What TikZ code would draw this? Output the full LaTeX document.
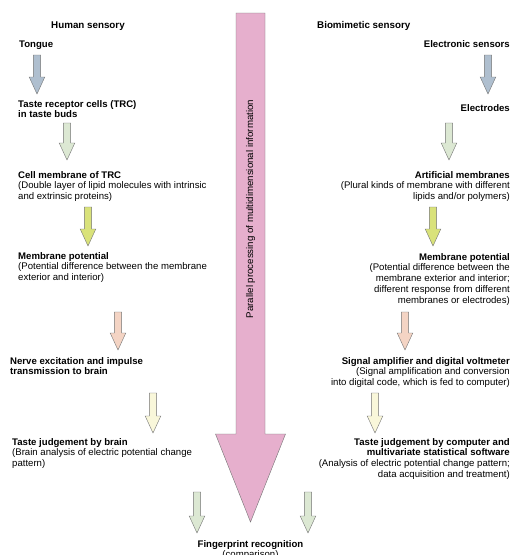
\documentclass[tikz,border=0pt]{standalone}
\usepackage{fontspec}
\setmainfont{Liberation Sans}
\usetikzlibrary{calc}

\definecolor{bluegrey}{HTML}{AFBFCF}
\definecolor{palegreen}{HTML}{DCE8D3}
\definecolor{limeyellow}{HTML}{D9E27A}
\definecolor{peach}{HTML}{F4D4C4}
\definecolor{cream}{HTML}{F9F7DA}
\definecolor{mauve}{HTML}{E6AFCD}

\tikzset{
	txt/.style={font=\fontsize{9.6}{10.8}\selectfont, inner sep=0pt},
	lefttxt/.style={txt, anchor=base west, align=left},
	righttxt/.style={txt, anchor=base east, align=right},
	blockline/.style={draw=black!55, line width=0.4pt},
}

\def\sw{3.6}
\def\hw{7.8}
\def\hl{17}

\newcommand{\blockarrow}[4]{%
	\draw[blockline, fill=#4] (#1-\sw,#2) -- (#1+\sw,#2) -- (#1+\sw,#3-\hl) -- (#1+\hw,#3-\hl)
		-- (#1,#3) -- (#1-\hw,#3-\hl) -- (#1-\sw,#3-\hl) -- cycle;}

\begin{document}
\begin{tikzpicture}[x=1pt, y=-1pt]
	\useasboundingbox (0,0) rectangle (513,555);
	\fill[white] (0,0) rectangle (513,555);

	\def\xC{250.5};
	\def\shaftH{14.5};
	\def\headH{35};
	\def\yTop{13};
	\def\yHead{434};
	\def\yTip{522};

	\draw[blockline, fill=mauve] (\xC-\shaftH,\yTop) -- (\xC+\shaftH,\yTop) -- (\xC+\shaftH,\yHead) -- (\xC+\headH,\yHead)
		-- (\xC,\yTip) -- (\xC-\headH,\yHead) -- (\xC-\shaftH,\yHead) -- cycle;
	\node[txt, font=\fontsize{9.7}{10}\selectfont, rotate=90] (parallel) at (\xC,209) {Parallel processing of multidimensional information};

	\node[txt, anchor=base, font=\fontsize{9.8}{10.8}\bfseries] (humanhead) at (88,28) {Human sensory};
	\node[lefttxt] (tongue) at (19,47) {\textbf{Tongue}};
	\node[lefttxt] (trc) at (18,117.8) {\textbf{Taste receptor cells (TRC)}\\\textbf{in taste buds}};
	\node[lefttxt] (cellmem) at (18,199.6) {\textbf{Cell membrane of TRC}\\(Double layer of lipid molecules with intrinsic\\and extrinsic proteins)};
	\node[lefttxt] (mempot) at (18,280.6) {\textbf{Membrane potential}\\(Potential difference between the membrane\\exterior and interior)};
	\node[lefttxt] (nerve) at (10,374.8) {\textbf{Nerve excitation and impulse}\\\textbf{transmission to brain}};
	\node[lefttxt] (brainjudge) at (12,466.6) {\textbf{Taste judgement by brain}\\(Brain analysis of electric potential change\\pattern)};

	\node[txt, anchor=base west, font=\fontsize{9.8}{10.8}\bfseries] (biohead) at (317,28) {Biomimetic sensory};
	\node[righttxt] (esensors) at (510,47) {\textbf{Electronic sensors}};
	\node[righttxt] (electrodes) at (510,111) {\textbf{Electrodes}};
	\node[righttxt] (artmem) at (510,199.6) {\textbf{Artificial membranes}\\(Plural kinds of membrane with different\\lipids and/or polymers)};
	\node[righttxt] (mempotb) at (510,303.2) {\textbf{Membrane potential}\\(Potential difference between the\\membrane exterior and interior;\\different response from different\\membranes or electrodes)};
	\node[righttxt] (amplifier) at (510,385.6) {\textbf{Signal amplifier and digital voltmeter}\\(Signal amplification and conversion\\into digital code, which is fed to computer)};
	\node[righttxt] (compjudge) at (510,477.4) {\textbf{Taste judgement by computer and}\\\textbf{multivariate statistical software}\\(Analysis of electric potential change pattern;\\data acquisition and treatment)};

	\node[txt, anchor=base, align=center] (fingerprint) at (\xC,557.8) {\textbf{Fingerprint recognition}\\(comparison)};

	\blockarrow{37}{55}{94}{bluegrey}
	\blockarrow{67}{123}{160}{palegreen}
	\blockarrow{88}{207}{246}{limeyellow}
	\blockarrow{118}{312}{350}{peach}
	\blockarrow{153}{393}{433}{cream}

	\blockarrow{488}{55}{94}{bluegrey}
	\blockarrow{449}{123}{160}{palegreen}
	\blockarrow{433}{207}{246}{limeyellow}
	\blockarrow{405}{312}{350}{peach}
	\blockarrow{375}{393}{433}{cream}

	\blockarrow{197}{492}{533}{palegreen}
	\blockarrow{308}{492}{533}{palegreen}
\end{tikzpicture}
\end{document}
